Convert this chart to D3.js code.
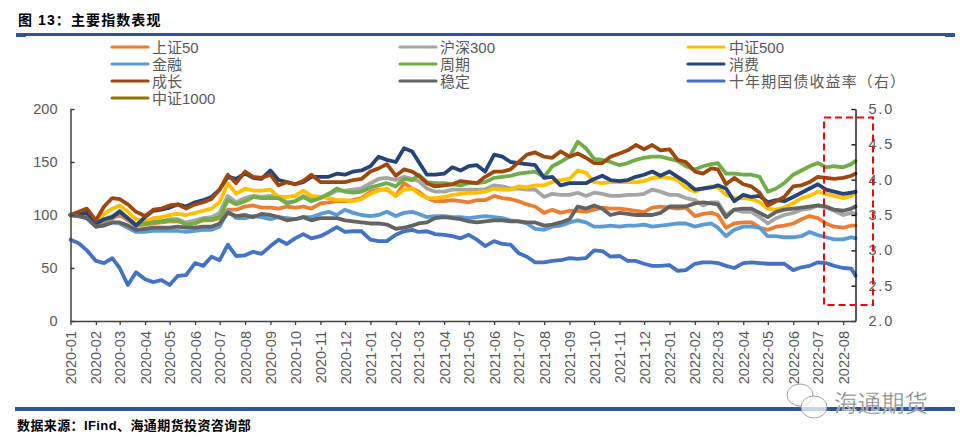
<!DOCTYPE html>
<html>
<head>
<meta charset="utf-8">
<script src="https://cdn.jsdelivr.net/npm/d3@7/dist/d3.min.js"></script>
<style>
  html, body { margin: 0; padding: 0; background: #fff; }
  svg { display: block; }
  text { font-family: "Liberation Sans", "Noto Sans CJK SC", sans-serif; }
</style>
</head>
<body>
<svg id="chart" width="960" height="447"></svg>
<script>
const monthLabels = [
  "2020-01","2020-02","2020-03","2020-04","2020-05","2020-06","2020-07","2020-08","2020-09","2020-10","2020-11","2020-12",
  "2021-01","2021-02","2021-03","2021-04","2021-05","2021-06","2021-07","2021-08","2021-09","2021-10","2021-11","2021-12",
  "2022-01","2022-02","2022-03","2022-04","2022-05","2022-06","2022-07","2022-08"
];
const leftTicks = [0, 50, 100, 150, 200];
const rightTicks = [2.0, 2.5, 3.0, 3.5, 4.0, 4.5, 5.0];

// three readings per month, on the 1st, 11th and 21st (last one is 2022-08-16)
const sz50 = [100,100,98, 91,94,97, 100,95,90, 91,92,93, 94,94,92, 93,95,95, 97,105,105, 108,109,107, 107,106,108, 107,108,106, 111,112,113, 113,114,116,
  122,124,124, 118,130,125, 122,116,113, 113,114,113, 112,114,114, 118,116,115, 113,110,108, 102,105,102, 104,104,103, 105,107,106, 106,105,104, 103,107,108,
  107,106,107, 99,101,102, 100,88,92, 93,93,88, 86,89,90, 92,96,99, 97,92,89, 88,90,90];
const hs300 = [100,101,99, 92,96,99, 103,96,90, 92,94,94, 96,96,93, 95,97,98, 102,118,112, 116,118,117, 118,117,112, 113,118,115, 116,119,123, 123,124,125,
  130,134,135, 133,136,134, 132,125,122, 122,124,124, 124,124,124, 128,127,125, 125,124,124, 117,120,119, 119,121,118, 121,120,118, 118,119,119, 120,124,122,
  119,119,116, 114,109,112, 112,100,105, 103,103,98, 92,97,100, 102,105,106, 109,107,104, 100,102,101];
const zz500 = [100,100,102, 93,101,106, 109,103,96, 94,97,98, 100,101,100, 102,104,106, 112,130,120, 125,123,123, 124,117,117, 118,123,118, 117,116,114, 114,113,115,
  120,123,125, 118,124,125, 120,116,116, 117,119,120, 121,121,122, 125,124,124, 127,126,128, 128,131,133, 134,142,140, 131,130,131, 131,131,131, 132,135,136,
  135,133,126, 122,125,127, 126,119,116, 116,115,112, 106,105,107, 111,116,118, 122,120,118, 116,118,121];
const finance = [100,99,97, 89,91,93, 92,88,84, 84,85,85, 85,85,84, 85,86,86, 89,104,97, 97,99,98, 96,98,97, 96,98,98, 101,103,100, 105,102,100,
  99,100,103, 99,102,103, 101,98,99, 99,98,98, 97,98,99, 98,97,95, 94,92,87, 86,89,90, 93,95,93, 89,89,90, 89,90,90, 91,89,90,
  91,92,92, 89,91,92, 88,80,86, 89,89,88, 80,80,79, 79,80,84, 81,79,77, 77,79,78];
const cycle = [100,100,99, 92,95,98, 104,97,91, 92,93,94, 95,95,91, 92,96,96, 98,114,110, 113,117,116, 116,116,111, 113,117,113, 116,120,125, 122,121,122,
  126,128,130, 127,134,133, 138,131,130, 130,129,128, 130,130,131, 135,136,137, 139,140,141, 136,146,150, 155,169,163, 153,152,150, 147,149,152, 154,155,155,
  153,151,146, 143,146,148, 149,139,139, 138,138,136, 122,125,130, 138,142,146, 149,145,146, 145,148,151];
const consume = [100,101,102, 92,96,98, 103,97,90, 98,104,105, 107,110,108, 112,114,117, 124,136,134, 139,135,134, 142,133,131, 129,131,136, 136,136,139, 138,141,142,
  146,155,152, 150,163,160, 150,138,138, 139,145,142, 146,147,141, 157,155,150, 149,148,147, 135,136,128, 130,130,130, 134,137,133, 132,133,136, 138,141,137,
  141,136,131, 124,125,126, 128,125,113, 119,117,118, 112,114,113, 117,121,125, 129,124,122, 120,121,122];
const growth = [100,103,106, 95,108,116, 115,110,103, 99,105,106, 109,110,106, 110,112,115, 124,138,130, 141,136,135, 138,128,131, 129,132,138, 131,131,131, 131,133,134,
  141,144,148, 137,143,141, 137,130,127, 128,129,132, 131,130,136, 141,141,143, 150,157,159, 155,154,160, 155,158,154, 149,149,155, 158,161,166, 162,166,161,
  162,152,150, 141,139,144, 143,129,135, 129,127,121, 109,113,117, 127,128,131, 136,135,134, 135,137,139];
const stable = [100,99,97, 89,90,93, 93,90,86, 87,88,88, 88,89,88, 88,89,89, 92,102,99, 100,98,101, 100,98,95, 96,98,95, 97,97,97, 95,94,93,
  92,92,91, 87,88,90, 92,93,97, 98,97,96, 94,93,94, 95,95,94, 94,93,93, 90,91,93, 96,108,106, 109,106,100, 102,101,100, 100,100,102,
  108,108,108, 111,112,111, 110,98,105, 106,106,102, 98,103,105, 106,107,108, 109,108,105, 104,106,108];
const zz1000 = []; // in the legend only, no line can be seen in the picture
const bondYield = [3.15,3.10,3.00, 2.85,2.82,2.89, 2.75,2.51,2.69, 2.59,2.55,2.58, 2.51,2.64,2.65, 2.82,2.78,2.91, 2.86,3.08,2.92, 2.93,2.98,2.95, 3.06,3.15,3.09, 3.17,3.23,3.17, 3.20,3.26,3.33, 3.26,3.27,3.27,
  3.15,3.13,3.13, 3.22,3.27,3.29, 3.26,3.27,3.23, 3.22,3.20,3.17, 3.22,3.15,3.06, 3.13,3.09,3.08, 2.96,2.91,2.83, 2.83,2.85,2.86, 2.89,2.88,2.89, 3.00,2.99,2.91, 2.92,2.85,2.85, 2.81,2.78,2.78,
  2.79,2.71,2.72, 2.81,2.83,2.83, 2.82,2.78,2.75, 2.82,2.83,2.82, 2.81,2.81,2.81, 2.72,2.76,2.78, 2.83,2.82,2.78, 2.75,2.74,2.64];

const seriesNames = ["上证50","沪深300","中证500","金融","周期","消费","成长","稳定","中证1000","十年期国债收益率（右）"];
const seriesValues = [sz50, hs300, zz500, finance, cycle, consume, growth, stable, zz1000, bondYield];
const seriesColors = ["#ED7D31","#A5A5A5","#FFC000","#5B9BD5","#70AD47","#264478","#9E480E","#636363","#997300","#4472C4"];

const parseDay = d3.timeParse("%Y-%m-%d");
const parseMonth = d3.timeParse("%Y-%m");
const sampleDates = monthLabels.flatMap(m => ["01","11","21"].map(d => parseDay(m + "-" + d)));
sampleDates[sampleDates.length - 1] = parseDay("2022-08-16");

const svg = d3.select("#chart");
const blue = "#2F5597";
const labelColor = "#595959";

const x = d3.scaleTime().domain([parseDay("2020-01-01"), parseDay("2022-08-16")]).range([70.5, 855.5]);
const yLeft = d3.scaleLinear().domain([0, 200]).range([321, 109]);
const yRight = d3.scaleLinear().domain([2, 5]).range([321, 109]);

// header and footer
svg.append("text").attr("x", 18).attr("y", 25).attr("font-size", 14).attr("font-weight", "bold")
  .attr("letter-spacing", 1.1).attr("fill", "#000").text("图 13：主要指数表现");
svg.append("rect").attr("x", 16).attr("y", 33).attr("width", 939).attr("height", 3).attr("fill", blue);
svg.append("rect").attr("x", 16).attr("y", 36).attr("width", 10).attr("height", 1).attr("fill", blue);
svg.append("rect").attr("x", 945).attr("y", 36).attr("width", 10).attr("height", 1).attr("fill", blue);
svg.append("rect").attr("x", 15).attr("y", 407).attr("width", 940).attr("height", 4).attr("fill", blue);
svg.append("text").attr("x", 17).attr("y", 430).attr("font-size", 13).attr("font-weight", "bold")
  .attr("letter-spacing", 0.4).attr("fill", "#000").text("数据来源：IFind、海通期货投资咨询部");

// lines
const line = (scale) => d3.line().x((d, i) => x(sampleDates[i])).y(d => scale(d));
seriesValues.forEach((values, i) => {
  if (!values.length) return;
  svg.append("path").attr("fill", "none").attr("stroke", seriesColors[i]).attr("stroke-width", 3.8)
    .attr("stroke-linejoin", "round").attr("stroke-linecap", "round")
    .attr("d", line(i === 9 ? yRight : yLeft)(values));
});

// axes
const axisLeft = d3.axisLeft(yLeft).tickValues(leftTicks).tickSizeInner(-4).tickSizeOuter(0).tickPadding(13);
const axisRight = d3.axisRight(yRight).tickValues(rightTicks).tickSizeInner(-4).tickSizeOuter(0).tickPadding(13).tickFormat(d3.format(".1f"));
const axisBottom = d3.axisBottom(x).tickValues(monthLabels.map(m => parseMonth(m))).tickSizeInner(4).tickSizeOuter(0).tickFormat(d3.timeFormat("%Y-%m"));

const gLeft = svg.append("g").attr("transform", "translate(70.5,0)").call(axisLeft);
const gRight = svg.append("g").attr("transform", "translate(855.5,0)").call(axisRight);
const gBottom = svg.append("g").attr("transform", "translate(0,321)").call(axisBottom);

gLeft.selectAll("path,line").attr("stroke", "#404040").attr("stroke-width", 1.5);
gRight.selectAll("path,line").attr("stroke", "#000").attr("stroke-width", 1.3);
gBottom.selectAll("path,line").attr("stroke", "#404040").attr("stroke-width", 1.3);
gLeft.selectAll("text").attr("font-size", 14.5).attr("fill", labelColor).attr("font-family", "Liberation Sans");
gRight.selectAll("text").attr("font-size", 14.5).attr("fill", labelColor).attr("font-family", "Liberation Sans").attr("letter-spacing", 1.8);
gBottom.selectAll("text")
  .attr("font-size", 14.5).attr("fill", labelColor).attr("font-family", "Liberation Sans")
  .attr("text-anchor", "end").attr("dy", null).attr("y", 0)
  .attr("transform", "translate(5,10) rotate(-90)");

// red box round the latest stretch
svg.append("rect").attr("x", 824).attr("y", 117.5).attr("width", 49).attr("height", 187.5)
  .attr("fill", "none").attr("stroke", "#FF0000").attr("stroke-width", 2).attr("stroke-dasharray", "7,4");

// legend: three columns filled row by row, the last two entries sit apart
const legendX = [[112, 152], [400, 440], [688, 729]];
const legendY = [47, 64, 81, 98];
const legendCol = [0, 1, 2, 0, 1, 2, 0, 1, 0, 2];
const legendRow = [0, 0, 0, 1, 1, 1, 2, 2, 3, 2];
seriesNames.forEach((name, i) => {
  const col = legendCol[i];
  const row = legendRow[i];
  const g = svg.append("g");
  g.append("line").attr("x1", legendX[col][0]).attr("x2", legendX[col][0] + 36)
    .attr("y1", legendY[row]).attr("y2", legendY[row])
    .attr("stroke", seriesColors[i]).attr("stroke-width", 3.2).attr("stroke-linecap", "round");
  g.append("text").attr("x", legendX[col][1]).attr("y", legendY[row] + 5.5)
    .attr("font-size", 15).attr("letter-spacing", i === 9 ? 1.1 : 0).attr("fill", labelColor).text(name);
});

// watermark
const mark = svg.append("g").attr("fill", "rgba(255,255,255,0.75)").attr("stroke", "#8c8c8c").attr("stroke-width", 0.8);
mark.append("ellipse").attr("cx", 800).attr("cy", 395).attr("rx", 13).attr("ry", 11);
mark.append("ellipse").attr("cx", 814).attr("cy", 407).attr("rx", 13).attr("ry", 11);
svg.append("text").attr("x", 834).attr("y", 412).attr("font-size", 23.5).attr("fill", "#7f7f7f")
  .attr("stroke", "#fff").attr("stroke-width", 0.4).text("海通期货");
</script>
</body>
</html>
